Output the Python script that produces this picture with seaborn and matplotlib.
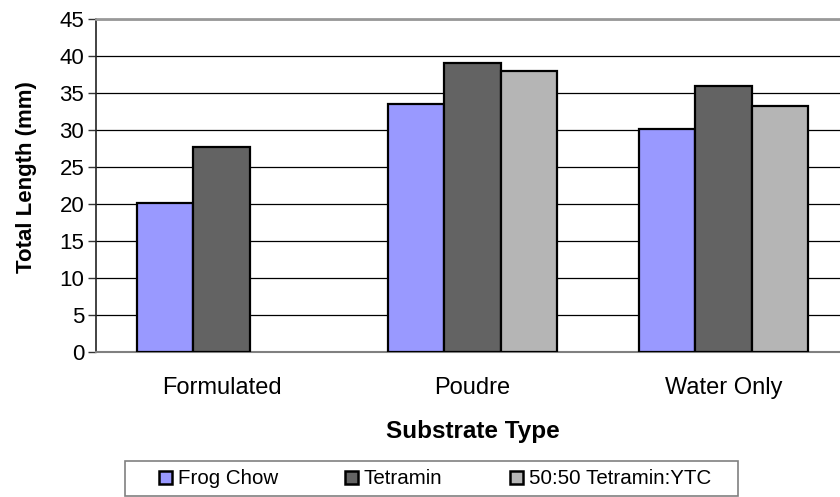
import matplotlib
matplotlib.use("Agg")
import matplotlib.pyplot as plt
from matplotlib.patches import Rectangle
import seaborn as sns
import pandas as pd
import numpy as np

categories = ["Formulated", "Poudre", "Water Only"]
series = ["Frog Chow", "Tetramin", "50:50 Tetramin:YTC"]
frog_chow = [20.2, 33.5, 30.2]
tetramin = [27.7, 39.1, 36.0]
mix_ytc = [np.nan, 38.0, 33.2]
colors = ["#9999FF", "#636363", "#B5B5B5"]
yticks = [0, 5, 10, 15, 20, 25, 30, 35, 40, 45]

rows = []
for s, vals in zip(series, [frog_chow, tetramin, mix_ytc]):
    for c, v in zip(categories, vals):
        rows.append({"Substrate Type": c, "Series": s, "Total Length (mm)": v})
df = pd.DataFrame(rows)

sns.set_style("white")
plt.rcParams["font.family"] = ["Liberation Sans", "DejaVu Sans"]
plt.rcParams["text.color"] = "black"
plt.rcParams["axes.labelcolor"] = "black"
plt.rcParams["xtick.color"] = "black"
plt.rcParams["ytick.color"] = "black"

W, H = 840, 497
fig = plt.figure(figsize=(8.4, 4.97), dpi=100)
ax_left, ax_right, ax_top, ax_bot = 96, 849, 19, 352.3
ax = fig.add_axes([ax_left/W, 1 - ax_bot/H, (ax_right - ax_left)/W, (ax_bot - ax_top)/H])

sns.barplot(data=df, x="Substrate Type", y="Total Length (mm)", hue="Series",
            hue_order=series, order=categories, palette=colors, width=0.673,
            edgecolor="black", linewidth=1.6, ax=ax, saturation=1, errorbar=None,
            zorder=3)

ax.set_xlim(-0.5, 2.5)
ax.set_ylim(0, 45)
ax.set_yticks(yticks)
ax.set_yticklabels([str(t) for t in yticks], fontsize=16, color="black")
ax.yaxis.grid(True, color="black", linewidth=0.9, zorder=0)
ax.set_axisbelow(True)

ax.set_xticks([0, 1, 2])
ax.set_xticklabels(categories, fontsize=17, color="black")
ax.tick_params(axis="x", which="major", length=0, pad=18)
ax.set_xticks([-0.5, 0.5, 1.5, 2.5], minor=True)
ax.tick_params(axis="x", which="minor", length=5.5, width=1, color="#333333", direction="out")
ax.tick_params(axis="y", which="major", length=6, width=1, color="#333333", direction="out", pad=2.5, left=True)

ax.spines["left"].set_color("#222222")
ax.spines["left"].set_linewidth(1.2)
ax.spines["bottom"].set_color("#808080")
ax.spines["bottom"].set_linewidth(1.5)
ax.spines["top"].set_color("#999999")
ax.spines["top"].set_linewidth(2)
ax.spines["right"].set_visible(False)

axw = ax_right - ax_left
axh = ax_bot - ax_top
ax.set_xlabel("Substrate Type", fontsize=17.5, fontweight="bold", color="black")
ax.xaxis.set_label_coords(0.5, (ax_bot - 420) / axh)
ax.set_ylabel("Total Length (mm)", fontsize=16, fontweight="bold", color="black")
ax.yaxis.set_label_coords((37.5 - ax_left) / axw, (ax_bot - 177) / axh)

# legend frame
fig.patches.append(Rectangle((125/W, 1 - 496/H), (738 - 125)/W, (496 - 461)/H,
                             transform=fig.transFigure, facecolor="none",
                             edgecolor="#808080", linewidth=1.2, zorder=1))

leg = ax.legend(loc="center left", bbox_to_anchor=(159/W, 1 - 479/H),
                bbox_transform=fig.transFigure, ncol=3, fontsize=14.8,
                frameon=False, borderpad=0, borderaxespad=0,
                handlelength=0.62, handleheight=0.62, handletextpad=0.28,
                columnspacing=3.3)
for h in leg.legend_handles:
    h.set_edgecolor("black")
    h.set_linewidth(1.8)
for t in leg.get_texts():
    t.set_color("black")

fig.savefig("out.png", dpi=100)
